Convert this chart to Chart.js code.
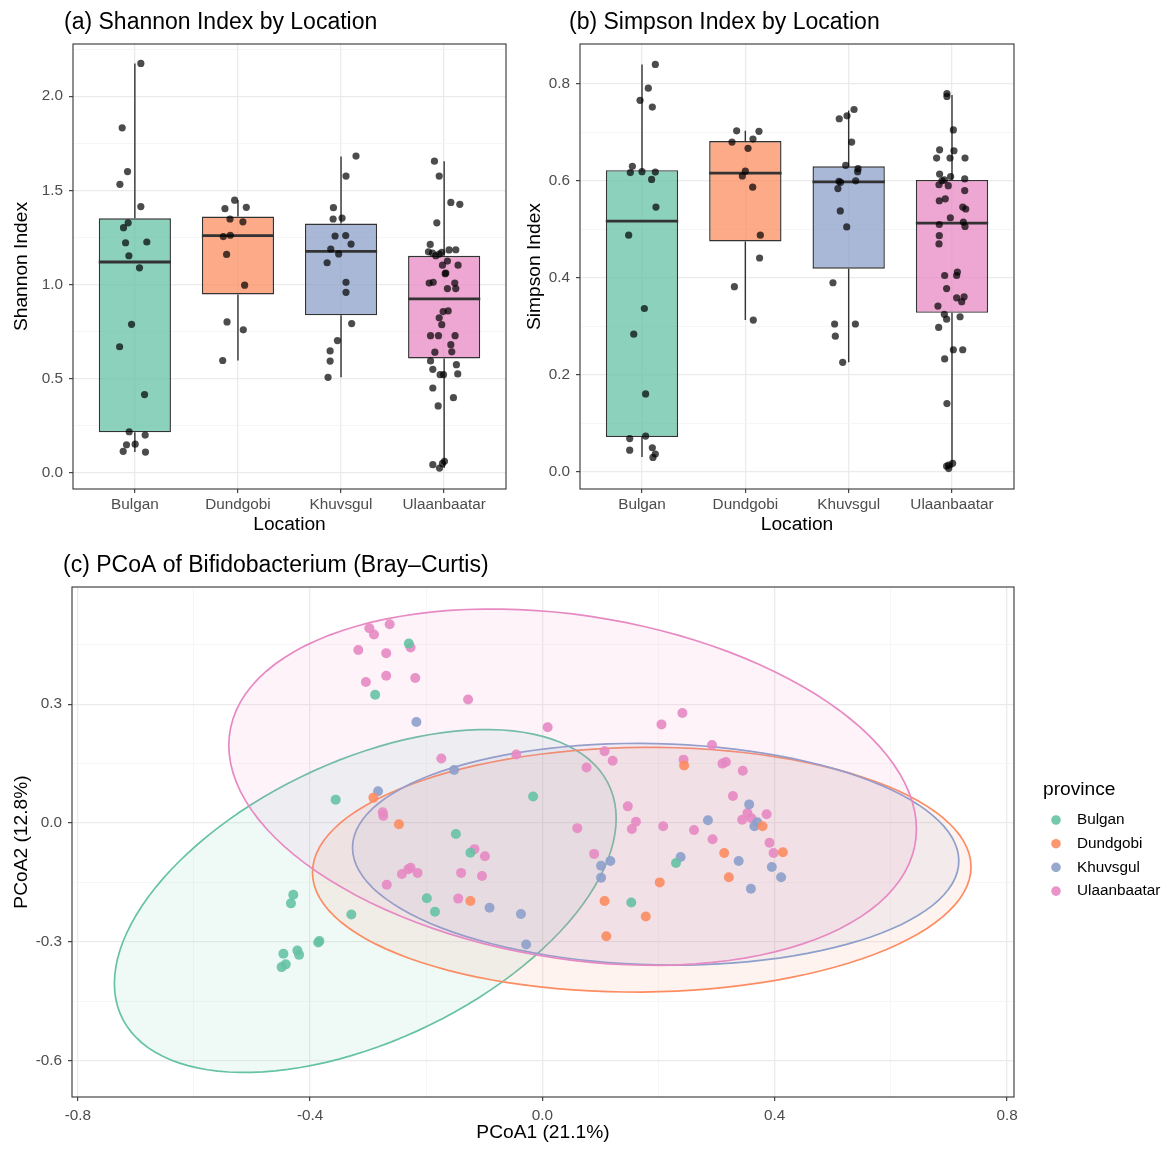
<!DOCTYPE html>
<html><head><meta charset="utf-8">
<script src="https://cdn.jsdelivr.net/npm/chart.js@4.4.1/dist/chart.umd.min.js"></script>
<style>
html,body{margin:0;padding:0;background:#fff;}
#wrap{position:relative;width:1170px;height:1157px;overflow:hidden;background:#fff;}
canvas{position:absolute;}
</style></head><body>
<div id="wrap">
<canvas id="ca" width="510" height="545" style="left:0;top:0;width:510px;height:545px"></canvas>
<canvas id="cb" width="660" height="545" style="left:510px;top:0;width:660px;height:545px"></canvas>
<canvas id="cc" width="1170" height="612" style="left:0;top:545px;width:1170px;height:612px"></canvas>
</div>
<script>
// ---------- categories / colours ----------
const categories = ['Bulgan', 'Dundgobi', 'Khuvsgul', 'Ulaanbaatar'];
const groupColors = ['#66C2A5', '#FC8D62', '#8DA0CB', '#E78AC3'];
const legendTitle = 'province';

// ---------- (a) Shannon index ----------
const shannonBulgan = [2.174,1.832,1.600,1.532,1.414,1.328,1.302,1.222,1.226,1.153,1.089,0.789,0.670,0.416,0.219,0.201,0.150,0.153,0.115,0.111];
const shannonBulganJitter = [0.058,-0.123,-0.071,-0.145,0.058,-0.065,-0.11,-0.09,0.116,-0.058,0.045,-0.032,-0.148,0.094,-0.055,0.10,-0.081,0.003,-0.113,0.103];
const shannonDundgobi = [1.448,1.403,1.410,1.348,1.333,1.255,1.262,1.160,0.997,0.802,0.760,0.597];
const shannonDundgobiJitter = [-0.032,-0.126,0.081,-0.077,0.048,-0.142,-0.074,-0.11,0.065,-0.106,0.052,-0.148];
const shannonKhuvsgul = [1.682,1.576,1.408,1.348,1.353,1.258,1.260,1.215,1.189,1.163,1.116,1.012,0.959,0.793,0.703,0.648,0.594,0.508];
const shannonKhuvsgulJitter = [0.145,0.048,-0.074,-0.077,0.01,-0.058,0.045,0.097,-0.1,-0.023,-0.135,0.048,0.048,0.103,-0.035,-0.106,-0.106,-0.126];
const shannonUlaanbaatar = [1.655,1.576,1.436,1.426,1.328,1.213,1.174,1.167,1.153,1.162,1.171,1.184,1.185,1.125,1.103,1.103,1.061,1.058,1.008,1.012,1.008,0.979,0.979,0.860,0.857,0.824,0.787,0.729,0.729,0.729,0.681,0.641,0.643,0.595,0.575,0.550,0.522,0.522,0.526,0.451,0.400,0.356,0.044,0.026,0.051,0.062];
const shannonUlaanbaatarJitter = [-0.094,-0.048,0.065,0.152,-0.071,-0.135,-0.152,-0.113,-0.081,-0.048,-0.023,0.048,0.113,0.032,-0.016,0.135,0.016,0.01,-0.145,-0.106,0.103,0.032,0.113,0.039,-0.01,-0.048,-0.023,-0.132,-0.055,0.106,0.065,-0.09,0.074,-0.132,0.119,-0.11,-0.039,-0.006,0.132,-0.11,0.09,-0.058,-0.11,-0.045,-0.016,0.003];
const shannonQ1 = [0.216, 0.948, 0.837, 0.608];
const shannonMedian = [1.120, 1.260, 1.176, 0.924];
const shannonQ3 = [1.352, 1.361, 1.324, 1.153];
const shannonLow = [0.111, 0.597, 0.508, 0.026];
const shannonHigh = [2.174, 1.448, 1.680, 1.655];
const shannonTicks = [0, 0.5, 1, 1.5, 2];
const shannonTickLabels = ['0.0', '0.5', '1.0', '1.5', '2.0'];
const shannonMinorTicks = [0.25, 0.75, 1.25, 1.75, 2.25];

// ---------- (b) Simpson index ----------
const simpsonBulgan = [0.840,0.791,0.766,0.752,0.630,0.617,0.619,0.618,0.603,0.546,0.488,0.337,0.284,0.161,0.074,0.069,0.050,0.045,0.037,0.030];
const simpsonBulganJitter = [0.129,0.061,-0.019,0.1,-0.093,-0.113,0,0.129,0.093,0.135,-0.129,0.023,-0.08,0.035,0.035,-0.119,0.1,-0.119,0.129,0.106];
const simpsonDundgobi = [0.703,0.702,0.680,0.686,0.667,0.620,0.610,0.587,0.488,0.441,0.382,0.313];
const simpsonDundgobiJitter = [-0.084,0.132,-0.129,0.074,0.026,0,-0.029,0.071,0.145,0.138,-0.106,0.077];
const simpsonKhuvsgul = [0.747,0.734,0.728,0.680,0.632,0.625,0.619,0.599,0.597,0.600,0.584,0.538,0.505,0.390,0.305,0.305,0.280,0.226];
const simpsonKhuvsgulJitter = [0.052,-0.016,-0.091,0.029,-0.029,0.091,0.087,-0.094,-0.078,0.068,-0.104,-0.081,-0.019,-0.152,-0.136,0.065,-0.129,-0.058];
const simpsonUlaanbaatar = [0.780,0.774,0.705,0.664,0.662,0.647,0.647,0.647,0.614,0.602,0.600,0.609,0.604,0.592,0.590,0.580,0.563,0.559,0.546,0.542,0.524,0.515,0.510,0.506,0.487,0.470,0.405,0.412,0.405,0.378,0.342,0.359,0.361,0.351,0.325,0.315,0.320,0.298,0.252,0.252,0.233,0.141,0.012,0.007,0.018,0.014];
const simpsonUlaanbaatarJitter = [-0.049,-0.049,0.013,-0.12,0.019,-0.149,-0.019,0.126,-0.12,-0.074,-0.097,-0.013,0.123,-0.126,-0.036,0.123,-0.065,-0.123,0.104,0.133,-0.016,0.11,-0.123,0.126,-0.123,-0.126,-0.071,0.052,0.045,-0.052,-0.136,0.045,0.117,0.094,-0.074,-0.052,0.078,-0.129,0.013,0.104,-0.071,-0.049,-0.052,-0.032,0.006,-0.032];
const simpsonQ1 = [0.072, 0.475, 0.419, 0.328];
const simpsonMedian = [0.517, 0.616, 0.598, 0.513];
const simpsonQ3 = [0.622, 0.682, 0.630, 0.602];
const simpsonLow = [0.031, 0.313, 0.226, 0.009];
const simpsonHigh = [0.840, 0.703, 0.745, 0.777];
const simpsonTicks = [0, 0.2, 0.4, 0.6, 0.8];
const simpsonTickLabels = ['0.0', '0.2', '0.4', '0.6', '0.8'];
const simpsonMinorTicks = [0.1, 0.3, 0.5, 0.7];

// ---------- (c) PCoA ----------
const bulganPC1 = [-0.230,-0.288,-0.356,-0.149,-0.016,-0.124,-0.199,-0.185,-0.329,-0.384,-0.386,0.153,0.230,-0.429,-0.433,-0.446,-0.422,-0.419,-0.449,-0.442];
const bulganPC2 = [0.453,0.324,0.059,-0.028,0.067,-0.075,-0.190,-0.224,-0.231,-0.298,-0.302,-0.201,-0.101,-0.181,-0.203,-0.330,-0.322,-0.333,-0.364,-0.357];
const dundgobiPC1 = [-0.291,-0.247,-0.124,0.107,0.110,0.178,0.202,0.244,0.379,0.414,0.313,0.321];
const dundgobiPC2 = [0.064,-0.003,-0.197,-0.197,-0.286,-0.236,-0.150,0.145,-0.008,-0.074,-0.076,-0.137];
const khuvsgulPC1 = [-0.217,-0.283,-0.152,0.101,0.117,0.101,-0.091,-0.037,-0.028,0.238,0.356,0.285,0.365,0.370,0.338,0.395,0.411,0.359];
const khuvsgulPC2 = [0.255,0.080,0.134,-0.108,-0.096,-0.138,-0.214,-0.230,-0.307,-0.086,0.047,0.007,-0.008,0.002,-0.096,-0.111,-0.137,-0.166];
const ulaanbaatarPC1 = [-0.298,-0.263,-0.290,-0.317,-0.269,-0.227,-0.304,-0.269,-0.219,-0.174,-0.275,-0.274,-0.242,-0.227,-0.231,-0.215,-0.128,0.009,0.205,0.241,-0.045,0.107,0.121,0.076,0.243,0.147,0.161,0.154,0.208,0.261,0.060,0.089,-0.117,-0.099,-0.140,-0.104,-0.268,-0.145,0.292,0.310,0.316,0.345,0.328,0.293,0.353,0.344,0.360,0.386,0.391,0.398];
const ulaanbaatarPC2 = [0.492,0.502,0.476,0.437,0.429,0.443,0.356,0.372,0.366,0.163,0.027,0.018,-0.129,-0.113,-0.117,-0.126,0.312,0.242,0.249,0.278,0.173,0.181,0.157,0.140,0.160,0.042,0.003,-0.015,-0.008,-0.018,-0.013,-0.078,-0.066,-0.084,-0.126,-0.134,-0.156,-0.191,0.197,0.150,0.154,0.132,0.068,-0.041,0.025,0.008,0.012,0.022,-0.050,-0.076];
// 95% ellipse per province: centre, half extent along PCoA1 / PCoA2, and covariance term
const ellipseCenterX = [-0.305, 0.171, 0.195, 0.052];
const ellipseCenterY = [-0.197, -0.118, -0.079, 0.0905];
const ellipseHalfX = [0.432, 0.567, 0.522, 0.592];
const ellipseHalfY = [0.433, 0.309, 0.280, 0.450];
const ellipseCov = [0.090, 0.004, -0.0087, -0.0626];
const pc1Ticks = [-0.8, -0.4, 0, 0.4, 0.8];
const pc1TickLabels = ['-0.8', '-0.4', '0.0', '0.4', '0.8'];
const pc1MinorTicks = [-0.6, -0.2, 0.2, 0.6];
const pc2Ticks = [-0.6, -0.3, 0, 0.3];
const pc2TickLabels = ['-0.6', '-0.3', '0.0', '0.3'];
const pc2MinorTicks = [-0.45, -0.15, 0.15, 0.45];

// ---------- helpers ----------
const FONT = "'Liberation Sans', Arial, Helvetica, sans-serif";
Chart.defaults.font.family = FONT;
Chart.defaults.color = '#4D4D4D';
const BOX_WIDTH = 0.7;
const TICK_SIZE = 15.3, AXIS_TITLE_SIZE = 19.2, TITLE_SIZE = 23;

function rgba(hex, a) {
  const n = parseInt(hex.slice(1), 16);
  return `rgba(${(n >> 16) & 255},${(n >> 8) & 255},${n & 255},${a})`;
}
function near(a, b) { return Math.abs(a - b) < 1e-6; }
function isIn(list, v) { return list.some(t => near(t, v)); }

function gridOpts(minor) {
  return {
    color: c => (c.tick && isIn(minor, c.tick.value)) ? '#F2F2F2' : '#EBEBEB',
    lineWidth: c => (c.tick && isIn(minor, c.tick.value)) ? 0.7 : 1.3,
    tickColor: c => (c.tick && isIn(minor, c.tick.value)) ? 'rgba(0,0,0,0)' : '#333333',
    tickWidth: 1.1,
    tickLength: 4,
    drawTicks: true,
    offset: false
  };
}
function numAxis(major, labels, minor, min, max, extra) {
  return Object.assign({
    type: 'linear', min, max, bounds: 'data', offset: false,
    border: { display: false },
    grid: gridOpts(minor),
    afterBuildTicks: s => { s.ticks = major.concat(minor).sort((a, b) => a - b).map(v => ({ value: v })); },
    ticks: {
      autoSkip: false, maxRotation: 0, padding: 6, color: '#4D4D4D', font: { size: TICK_SIZE },
      callback: v => { const i = major.findIndex(t => near(t, v)); return i >= 0 ? labels[i] : ''; }
    }
  }, extra);
}

const panelBorder = {
  id: 'panelBorder',
  afterDraw(chart) {
    const { ctx, chartArea: a } = chart;
    ctx.save();
    ctx.strokeStyle = '#333333';
    ctx.lineWidth = 1.1;
    ctx.strokeRect(a.left, a.top, a.right - a.left, a.bottom - a.top);
    ctx.restore();
  }
};

// ggplot places the title slightly left of the panel edge: nudge the title block after layout
const titleNudge = {
  id: 'titleNudge',
  afterLayout(chart, args, opts) {
    const tb = chart.titleBlock;
    if (tb) { tb.left -= opts.dx || 0; tb.right -= opts.dx || 0; }
  }
};

function titleOpts(text, padTop, padBottom) {
  return { display: true, text, align: 'start', fullSize: false, color: '#000',
    font: { size: TITLE_SIZE, weight: 'normal' }, padding: { top: padTop, bottom: padBottom } };
}

function boxChart(canvasId, cfg) {
  const pts = [], boxes = [], meds = [], whisk = [];
  cfg.values.forEach((vals, ci) => {
    const pos = ci + 1;
    vals.forEach((v, k) => pts.push({ x: pos + cfg.jitter[ci][k], y: v }));
    boxes.push({ x: pos, y: [cfg.q1[ci], cfg.q3[ci]] });
    meds.push({ x: pos - BOX_WIDTH / 2, y: cfg.median[ci] }, { x: pos + BOX_WIDTH / 2, y: cfg.median[ci] }, { x: pos, y: null });
    whisk.push({ x: pos, y: cfg.q3[ci] }, { x: pos, y: cfg.high[ci] }, { x: pos, y: null },
               { x: pos, y: cfg.low[ci] }, { x: pos, y: cfg.q1[ci] }, { x: pos, y: null });
  });
  return new Chart(document.getElementById(canvasId), {
    type: 'bar',
    data: {
      datasets: [
        { type: 'scatter', data: pts, backgroundColor: 'rgba(0,0,0,0.7)', borderWidth: 0, pointRadius: 3.6, order: 0 },
        { type: 'line', data: meds, borderColor: '#333333', borderWidth: 2.8, pointRadius: 0, spanGaps: false, fill: false, borderCapStyle: 'butt', order: 1 },
        { type: 'bar', data: boxes, backgroundColor: groupColors.map(c => rgba(c, 0.75)), borderColor: '#333333',
          borderWidth: 1.4, borderSkipped: false, categoryPercentage: BOX_WIDTH, barPercentage: 1, order: 2 },
        { type: 'line', data: whisk, borderColor: '#333333', borderWidth: 1.4, pointRadius: 0, spanGaps: false, fill: false, order: 3 }
      ]
    },
    options: {
      responsive: false, animation: false, events: [],
      layout: { padding: { left: 0, right: cfg.padRight, top: 0, bottom: 0 } },
      plugins: { legend: { display: false }, tooltip: { enabled: false },
        title: titleOpts(cfg.title, 9, 7.4), titleNudge: { dx: cfg.titleNudge } },
      scales: {
        x: {
          type: 'linear', min: 0.4, max: 4.6, bounds: 'data', offset: false,
          border: { display: false },
          grid: gridOpts([]),
          afterBuildTicks: s => { s.ticks = categories.map((c, i) => ({ value: i + 1 })); },
          afterFit: s => { s.height = 56; },
          ticks: { autoSkip: false, maxRotation: 0, padding: 3, color: '#4D4D4D', font: { size: TICK_SIZE },
            callback: v => categories[Math.round(v) - 1] || '' },
          title: { display: true, text: 'Location', color: '#000', font: { size: AXIS_TITLE_SIZE }, padding: { top: 0, bottom: 8.5 } }
        },
        y: numAxis(cfg.ticks, cfg.tickLabels, cfg.minor, cfg.min, cfg.max, {
          afterFit: s => { s.width = cfg.yWidth; },
          title: { display: true, text: cfg.yTitle, color: '#000', font: { size: AXIS_TITLE_SIZE }, padding: { top: cfg.yTitlePad, bottom: 0 } }
        })
      }
    },
    plugins: [panelBorder, titleNudge]
  });
}

boxChart('ca', {
  title: '(a) Shannon Index by Location', yTitle: 'Shannon Index',
  values: [shannonBulgan, shannonDundgobi, shannonKhuvsgul, shannonUlaanbaatar],
  jitter: [shannonBulganJitter, shannonDundgobiJitter, shannonKhuvsgulJitter, shannonUlaanbaatarJitter],
  q1: shannonQ1, median: shannonMedian, q3: shannonQ3, low: shannonLow, high: shannonHigh,
  ticks: shannonTicks, tickLabels: shannonTickLabels, minor: shannonMinorTicks,
  min: -0.085, max: 2.277, yWidth: 73, yTitlePad: 10.5, padRight: 3, titleNudge: 9
});
boxChart('cb', {
  title: '(b) Simpson Index by Location', yTitle: 'Simpson Index',
  values: [simpsonBulgan, simpsonDundgobi, simpsonKhuvsgul, simpsonUlaanbaatar],
  jitter: [simpsonBulganJitter, simpsonDundgobiJitter, simpsonKhuvsgulJitter, simpsonUlaanbaatarJitter],
  q1: simpsonQ1, median: simpsonMedian, q3: simpsonQ3, low: simpsonLow, high: simpsonHigh,
  ticks: simpsonTicks, tickLabels: simpsonTickLabels, minor: simpsonMinorTicks,
  min: -0.035, max: 0.882, yWidth: 70, yTitlePad: 13.5, padRight: 156, titleNudge: 11
});

// ---------- (c) ----------
const pcoaX = [bulganPC1, dundgobiPC1, khuvsgulPC1, ulaanbaatarPC1];
const pcoaY = [bulganPC2, dundgobiPC2, khuvsgulPC2, ulaanbaatarPC2];

const ellipsePlugin = {
  id: 'groupEllipses',
  beforeDatasetsDraw(chart) {
    const { ctx, chartArea: a, scales } = chart;
    const xs = scales.x, ys = scales.y;
    ctx.save();
    ctx.beginPath();
    ctx.rect(a.left, a.top, a.right - a.left, a.bottom - a.top);
    ctx.clip();
    categories.forEach((name, g) => {
      const W = ellipseHalfX[g], H = ellipseHalfY[g], S = ellipseCov[g];
      const k = S / W, r = Math.sqrt(Math.max(H * H - k * k, 0));
      const N = 120;
      ctx.beginPath();
      for (let i = 0; i <= N; i++) {
        const t = i / N * 2 * Math.PI;
        const px = xs.getPixelForValue(ellipseCenterX[g] + W * Math.cos(t));
        const py = ys.getPixelForValue(ellipseCenterY[g] + k * Math.cos(t) + r * Math.sin(t));
        if (i === 0) ctx.moveTo(px, py); else ctx.lineTo(px, py);
      }
      ctx.closePath();
      ctx.fillStyle = rgba(groupColors[g], 0.1);
      ctx.fill();
      ctx.strokeStyle = groupColors[g];
      ctx.lineWidth = 1.7;
      ctx.stroke();
    });
    ctx.restore();
  }
};

const legendPlugin = {
  id: 'provinceLegend',
  afterDraw(chart) {
    const { ctx, chartArea: a } = chart;
    const cy = (a.top + a.bottom) / 2;
    ctx.save();
    ctx.textBaseline = 'middle';
    ctx.textAlign = 'left';
    ctx.fillStyle = '#000';
    ctx.font = `${AXIS_TITLE_SIZE}px ${FONT}`;
    ctx.fillText(legendTitle, a.right + 29, cy - 52);
    chart.data.datasets.forEach((ds, i) => {
      const y = cy - 22 + i * 23.7;
      ctx.beginPath();
      ctx.arc(a.right + 42, y, 4.8, 0, Math.PI * 2);
      ctx.fillStyle = ds.backgroundColor;
      ctx.fill();
      ctx.fillStyle = '#000';
      ctx.font = `${TICK_SIZE}px ${FONT}`;
      ctx.fillText(ds.label, a.right + 63, y);
    });
    ctx.restore();
  }
};

new Chart(document.getElementById('cc'), {
  type: 'scatter',
  data: {
    datasets: categories.map((name, g) => ({
      label: name,
      data: pcoaX[g].map((x, i) => ({ x, y: pcoaY[g][i] })),
      backgroundColor: rgba(groupColors[g], 0.9),
      borderWidth: 0,
      pointRadius: 5
    }))
  },
  options: {
    responsive: false, animation: false, events: [],
    layout: { padding: { left: 0, right: 156, top: 0, bottom: 0 } },
    plugins: { legend: { display: false }, tooltip: { enabled: false },
      title: titleOpts('(c) PCoA of Bifidobacterium (Bray\u2013Curtis)', 7, 7.4), titleNudge: { dx: 9 } },
    scales: {
      x: numAxis(pc1Ticks, pc1TickLabels, pc1MinorTicks, -0.81, 0.812, {
        afterFit: s => { s.height = 60; },
        title: { display: true, text: 'PCoA1 (21.1%)', color: '#000', font: { size: AXIS_TITLE_SIZE }, padding: { top: 0, bottom: 12.5 } }
      }),
      y: numAxis(pc2Ticks, pc2TickLabels, pc2MinorTicks, -0.692, 0.596, {
        afterFit: s => { s.width = 72; },
        title: { display: true, text: 'PCoA2 (12.8%)', color: '#000', font: { size: AXIS_TITLE_SIZE }, padding: { top: 10.5, bottom: 0 } }
      })
    }
  },
  plugins: [ellipsePlugin, panelBorder, legendPlugin, titleNudge]
});
</script>
</body></html>
